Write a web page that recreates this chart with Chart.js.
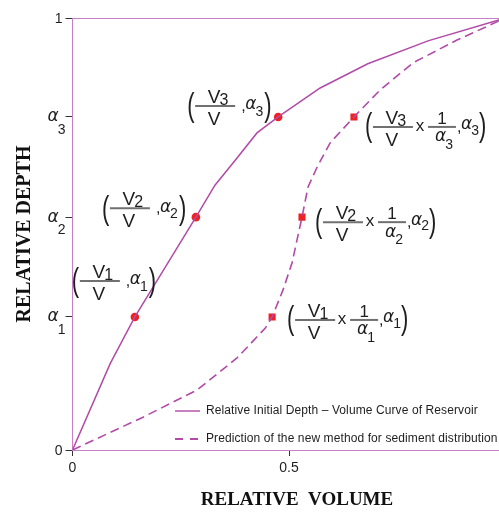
<!DOCTYPE html>
<html>
<head>
<meta charset="utf-8">
<script src="https://cdn.jsdelivr.net/npm/chart.js@4.4.1/dist/chart.umd.min.js"></script>
<style>
  html, body { margin: 0; padding: 0; background: #fff; overflow: hidden; }
  canvas { display: block; }
</style>
</head>
<body>
<canvas id="myChart" width="520" height="512"></canvas>
<script>
// relative initial depth - volume curve (solid)
let volumeInitial = [0, 0.087, 0.144, 0.285, 0.329, 0.380, 0.426, 0.475, 0.572, 0.682, 0.821, 1];
let depthInitial  = [0, 0.200, 0.308, 0.539, 0.613, 0.676, 0.734, 0.771, 0.838, 0.894, 0.947, 1];

// prediction of the new method (dashed)
let volumePredicted = [0, 0.163, 0.288, 0.380, 0.445, 0.461, 0.486, 0.507, 0.530, 0.544, 0.565, 0.595, 0.650, 0.710, 0.786, 0.888, 1];
let depthPredicted  = [0, 0.076, 0.139, 0.213, 0.282, 0.308, 0.370, 0.433, 0.539, 0.609, 0.655, 0.711, 0.771, 0.833, 0.896, 0.949, 1];

// marked points alpha1..alpha3
let alphaDepths = [0.308, 0.539, 0.771];
let alphaVolumes = [0.144, 0.285, 0.475];        // V_k / V
let alphaVolumesScaled = [0.461, 0.530, 0.650];  // V_k / V x 1/alpha_k
let alphaSubs = ['1', '2', '3'];

let xTicks = [0, 0.5, 1];
let xTickLabels = ['0', '0.5', '1'];
let yTicks = [0, 0.308, 0.539, 0.771, 1];
let yTickLabels = ['0', 'α1', 'α2', 'α3', '1'];

let seriesNames = [
  'Relative Initial Depth – Volume Curve of Reservoir',
  'Prediction of the new method for sediment distribution'
];
let xTitle = 'RELATIVE  VOLUME';
let yTitle = 'RELATIVE DEPTH';

// label placement next to the marked points (pixel offsets)
let solidLabelOffsets = [[-62, -36], [-93, -9], [-90, -11]];
let dashedLabelOffsets = [[15, 3], [13, 5], [11, 10]];

const curveColor = '#b24aa8';
const axisColor = '#c97fc6';
const markColor = '#ee2222';
const textColor = '#1e1e1e';
const sans = '"Liberation Sans", Arial, sans-serif';
const serifBold = 'bold 19px "Liberation Serif", serif';

function toPoints(xs, ys) {
  return xs.map((x, i) => ({ x: x, y: ys[i] }));
}

function paren(c, ch, x, yc) {
  c.save();
  c.translate(x, yc);
  c.scale(1, 1.55);
  c.font = '22px ' + sans;
  c.textAlign = 'left';
  c.textBaseline = 'middle';
  c.fillText(ch, 0, 0);
  c.restore();
}

function bar(c, x1, x2, yb) {
  c.save();
  c.strokeStyle = '#707070';
  c.lineWidth = 2;
  c.beginPath();
  c.moveTo(x1, yb);
  c.lineTo(x2, yb);
  c.stroke();
  c.restore();
}

function txt(c, s, x, y, font, align, base) {
  c.font = font;
  c.textAlign = align || 'left';
  c.textBaseline = base || 'alphabetic';
  c.fillText(s, x, y);
}

function alpha(c, x, ymid, sub, subDy) {
  txt(c, 'α', x, ymid, 'italic 17px "DejaVu Sans", sans-serif', 'left', 'middle');
  let w = c.measureText('α').width;
  txt(c, sub, x + w - 1, ymid + subDy, '14px ' + sans, 'left', 'alphabetic');
}

function vFraction(c, L, yb, k) {
  bar(c, L + 7, L + 47, yb);
  c.font = '19px ' + sans;
  let w = c.measureText('V').width;
  txt(c, 'V', L + 26 - w / 2, yb - 3, '19px ' + sans);
  txt(c, k, L + 26 + w / 2 - 1, yb - 1, '16px ' + sans);
  txt(c, 'V', L + 26, yb + 19, '19px ' + sans, 'center');
}

function solidLabel(c, L, yb, k) {
  paren(c, '(', L - 1, yb + 1);
  vFraction(c, L, yb, k);
  txt(c, ',', L + 53, yb + 5, '16px ' + sans);
  alpha(c, L + 57, yb - 1, k, 11);
  paren(c, ')', L + 76, yb + 1);
}

function dashedLabel(c, L, yb, k) {
  paren(c, '(', L, yb);
  vFraction(c, L + 1, yb, k);
  txt(c, 'x', L + 55, yb + 4, '17px ' + sans, 'center');
  bar(c, L + 63, L + 91, yb);
  txt(c, '1', L + 77, yb - 3, '17px ' + sans, 'center');
  alpha(c, L + 70, yb + 10, k, 12);
  txt(c, ',', L + 92, yb + 5, '16px ' + sans);
  alpha(c, L + 96, yb - 2, k, 10);
  paren(c, ')', L + 114, yb);
}

const textPlugin = {
  id: 'textPlugin',
  afterDraw(chart) {
    let c = chart.ctx;
    let xs = chart.scales.x, ys = chart.scales.y, area = chart.chartArea;
    c.save();
    c.fillStyle = textColor;

    // y tick labels (alpha with subscripts)
    yTicks.forEach((v, i) => {
      let py = ys.getPixelForValue(v);
      let lab = yTickLabels[i];
      if (lab[0] === 'α') {
        alpha(c, area.left - 25, py, lab.slice(1), 17);
      } else {
        txt(c, lab, area.left - 10, py + 1, '14px ' + sans, 'right', 'middle');
      }
    });

    // axis titles
    c.fillStyle = '#111';
    txt(c, xTitle, (area.left + area.right) / 2 + 8, 500, serifBold, 'center', 'middle');
    c.save();
    c.translate(25, (area.top + area.bottom) / 2);
    c.rotate(-Math.PI / 2);
    txt(c, yTitle, 0, 0, serifBold.replace('19px', '20px'), 'center', 'middle');
    c.restore();
    c.fillStyle = textColor;

    // labels of the marked points
    alphaDepths.forEach((a, i) => {
      let py = ys.getPixelForValue(a);
      let p1 = xs.getPixelForValue(alphaVolumes[i]);
      let p2 = xs.getPixelForValue(alphaVolumesScaled[i]);
      solidLabel(c, p1 + solidLabelOffsets[i][0], py + solidLabelOffsets[i][1], alphaSubs[i]);
      dashedLabel(c, p2 + dashedLabelOffsets[i][0], py + dashedLabelOffsets[i][1], alphaSubs[i]);
    });

    // legend
    seriesNames.forEach((name, i) => {
      let ds = chart.data.datasets[i];
      let ly = area.bottom - 39 + i * 28;
      let lx = area.left + 102.5;
      c.strokeStyle = ds.borderColor;
      c.lineWidth = i ? 2.2 : 1.4;
      c.setLineDash(i ? [8, 7] : []);
      c.beginPath();
      c.moveTo(lx, ly);
      c.lineTo(lx + 25, ly);
      c.stroke();
      c.setLineDash([]);
      c.fillStyle = textColor;
      c.letterSpacing = '0.1px';
      txt(c, name, lx + 31, ly, '12px ' + sans, 'left', 'middle');
      c.letterSpacing = '0px';
    });
    c.restore();
  }
};

let ctx = document.getElementById('myChart');
let myChart = new Chart(ctx, {
  type: 'scatter',
  data: {
    datasets: [
      {
        label: seriesNames[0],
        data: toPoints(volumeInitial, depthInitial),
        showLine: true,
        borderColor: curveColor,
        borderWidth: 1.5,
        pointRadius: 0,
        tension: 0
      },
      {
        label: seriesNames[1],
        data: toPoints(volumePredicted, depthPredicted),
        showLine: true,
        borderColor: curveColor,
        borderWidth: 1.6,
        borderDash: [9, 5],
        pointRadius: 0,
        tension: 0
      },
      {
        label: 'alpha points',
        data: toPoints(alphaVolumes, alphaDepths),
        pointStyle: 'circle',
        pointRadius: 4.3,
        backgroundColor: markColor,
        borderWidth: 0
      },
      {
        label: 'alpha points scaled',
        data: toPoints(alphaVolumesScaled, alphaDepths),
        pointStyle: 'rect',
        pointRadius: 5,
        backgroundColor: markColor,
        borderWidth: 0
      }
    ]
  },
  options: {
    responsive: false,
    animation: false,
    layout: { padding: { top: 18, right: 14.5, left: 0, bottom: 0 } },
    plugins: {
      legend: { display: false },
      tooltip: { enabled: false }
    },
    scales: {
      x: {
        type: 'linear',
        min: 0,
        max: 1,
        afterBuildTicks: s => { s.ticks = xTicks.map(v => ({ value: v })); },
        afterFit: s => { s.height = 62; },
        ticks: {
          callback: (v, i) => xTickLabels[i],
          autoSkip: false,
          maxRotation: 0,
          padding: 4,
          color: textColor,
          font: { family: sans, size: 14 }
        },
        grid: {
          color: c => (c.tick && c.tick.value === 1 ? axisColor : 'rgba(0,0,0,0)'),
          tickColor: '#333',
          tickLength: 6,
          lineWidth: 1
        },
        border: { color: axisColor, width: 1 }
      },
      y: {
        type: 'linear',
        min: 0,
        max: 1,
        afterBuildTicks: s => { s.ticks = yTicks.map(v => ({ value: v })); },
        afterFit: s => { s.width = 72.5; },
        ticks: { display: false },
        grid: {
          color: c => (c.tick && c.tick.value === 1 ? axisColor : 'rgba(0,0,0,0)'),
          tickColor: '#333',
          tickLength: 7,
          lineWidth: 1
        },
        border: { color: axisColor, width: 1 }
      }
    }
  },
  plugins: [textPlugin]
});
</script>
</body>
</html>
